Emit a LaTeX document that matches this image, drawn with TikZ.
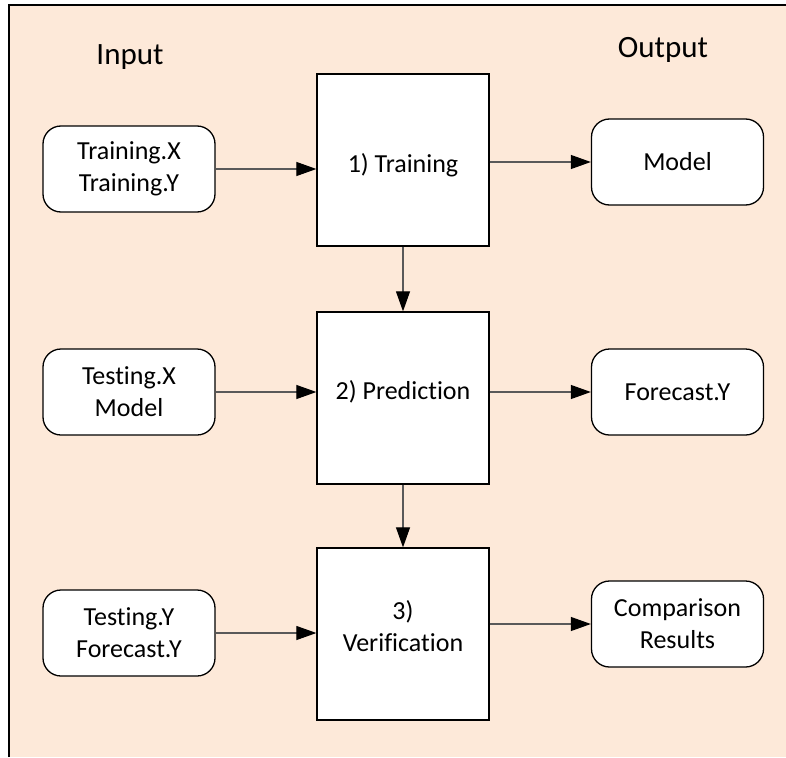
\documentclass[tikz,border=0pt]{standalone}
\usepackage{fontspec}
\setmainfont{Carlito}[Ligatures=NoCommon]
\usetikzlibrary{arrows.meta}
\definecolor{peach}{HTML}{FDE9D9}
\definecolor{linegray}{HTML}{595959}
\tikzset{
  txt/.style={font=\fontsize{26}{32}\selectfont, inner sep=0pt, align=center, text=black},
  headtxt/.style={font=\fontsize{31}{36}\selectfont, inner sep=0pt, text=black},
  iobox/.style={draw=black, line width=1.3pt, fill=white, rounded corners=18pt,
    minimum width=172pt, minimum height=86pt, inner sep=0pt, txt},
  procbox/.style={draw=black, line width=1.3pt, fill=white,
    minimum width=172pt, minimum height=172pt, inner sep=0pt},
  flow/.style={draw=linegray, line width=1.1pt, -{Triangle[length=20pt,width=14pt,color=black]}}
}
\begin{document}
\begin{tikzpicture}[x=1pt,y=-1pt]
\useasboundingbox (0,0) rectangle (786,757);
\fill[peach] (9,5) rectangle (786,757);
\draw[black, line width=1.5pt] (9,757) -- (9,5) -- (786,5);

\node[headtxt] (inp) at (130,57) {Input};
\node[headtxt] (outp) at (663,50) {Output};

% input boxes
\node[iobox] (tx) at (129,169) {Training.X\\Training.Y};
\node[iobox] (testx) at (129,392) {Testing.X\\Model};
\node[iobox] (testy) at (129,633) {Testing.Y\\Forecast.Y};

% process boxes
\node[procbox] (train) at (403,160) {};
\node[txt] (traint) at (403,165) {1) Training};
\node[procbox] (pred) at (403,398) {};
\node[txt] (predt) at (403,392) {2) Prediction};
\node[procbox] (verif) at (403,634) {};
\node[txt] (veri) at (403,626) {3)\\Verification};

% output boxes
\node[iobox] (model) at (677.5,162) {Model};
\node[iobox] (fore) at (677.5,392) {Forecast.Y};
\node[iobox] (comp) at (677.5,624) {Comparison\\Results};

% connectors
\draw[flow] (tx.east) -- (tx.east -| train.west);
\draw[flow] (model.west -| train.east) -- (model.west);
\draw[flow] (testx.east) -- (testx.east -| pred.west);
\draw[flow] (fore.west -| pred.east) -- (fore.west);
\draw[flow] (testy.east) -- (testy.east -| verif.west);
\draw[flow] (comp.west -| verif.east) -- (comp.west);
\draw[flow] (train.south) -- (pred.north);
\draw[flow] (pred.south) -- (verif.north);
\end{tikzpicture}
\end{document}
